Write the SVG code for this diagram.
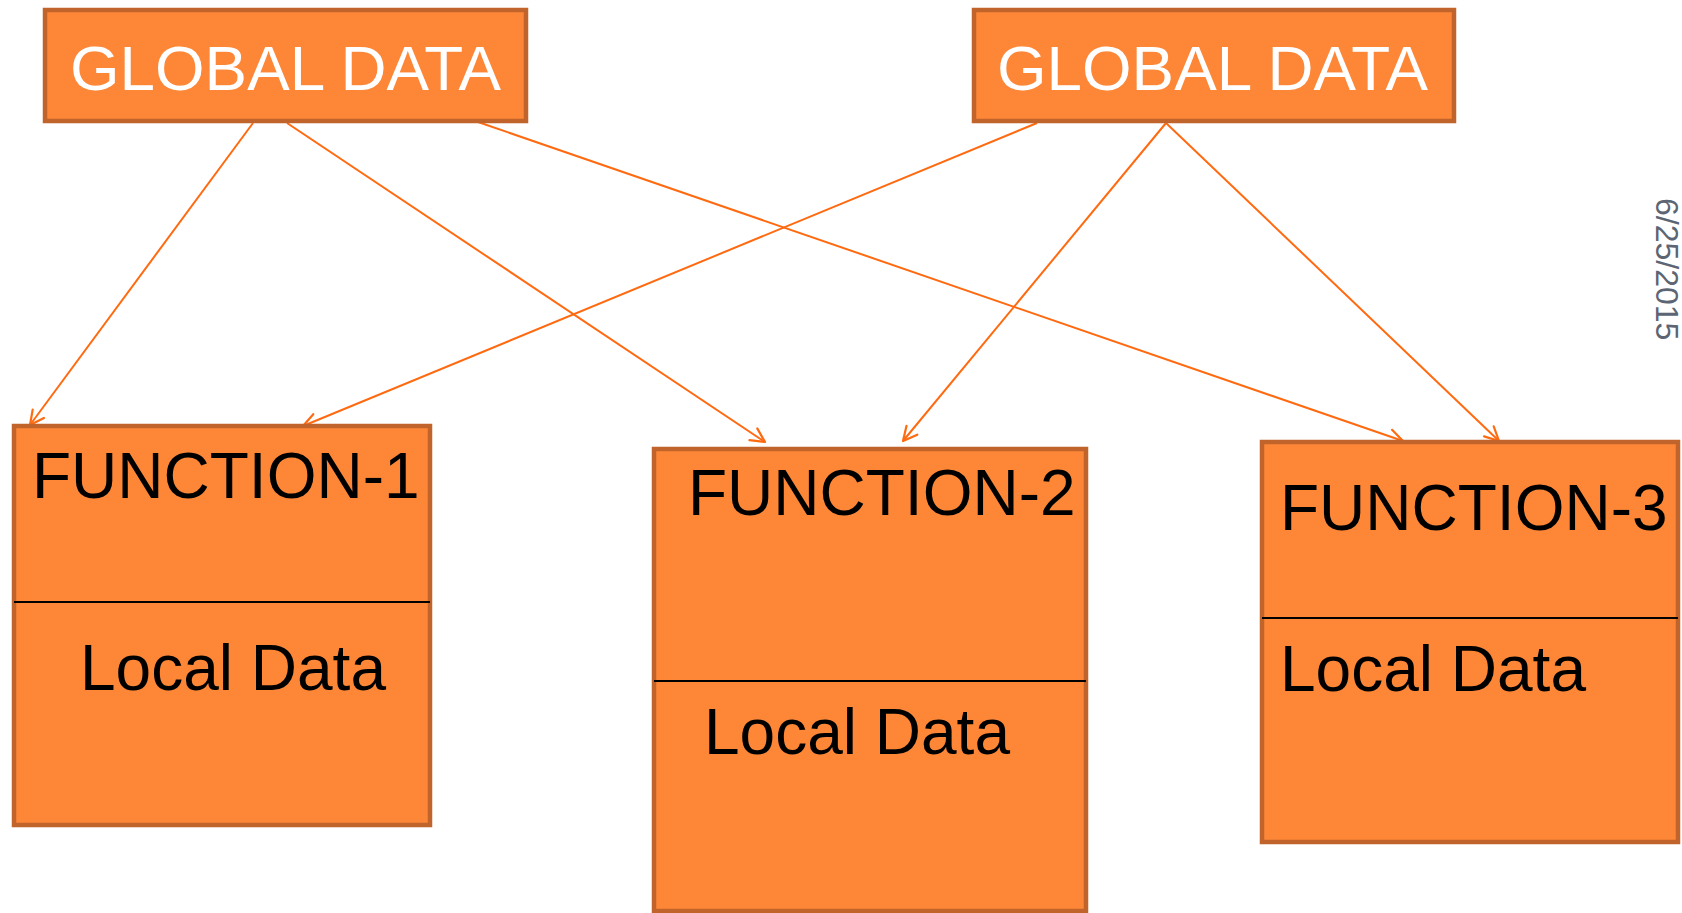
<svg xmlns="http://www.w3.org/2000/svg" width="1682" height="913" viewBox="0 0 1682 913">
<style>
.box{fill:#fd8737;stroke:#c0642c;stroke-width:4.5}
.div{stroke:#000;stroke-width:2}
.gt{font-family:"Liberation Sans",Arial,sans-serif;font-size:63px;fill:#fff}
.ft{font-family:"Liberation Sans",Arial,sans-serif;font-size:64px;fill:#000}
.con{stroke:#ff6a10;stroke-width:2;fill:none;marker-end:url(#arr)}
.date{font-family:"Liberation Sans",Arial,sans-serif;font-size:32px;fill:#5b6574}
</style>
<defs>
<marker id="arr" markerUnits="userSpaceOnUse" markerWidth="30" markerHeight="30" refX="0" refY="0" viewBox="-20 -15 30 30" orient="auto" overflow="visible">
<path d="M-14,-7 L0,0 L-14,7" fill="none" stroke="#ff6a10" stroke-width="2.2" stroke-linecap="round" stroke-linejoin="round"/>
</marker>
</defs>
<rect width="1682" height="913" fill="#fff"/>
<g id="connectors">
<line class="con" x1="253" y1="123" x2="30" y2="425"/>
<line class="con" x1="287" y1="123" x2="765" y2="442"/>
<line class="con" x1="478" y1="122" x2="1403" y2="441"/>
<line class="con" x1="1037" y1="123" x2="303" y2="426"/>
<line class="con" x1="1166" y1="123" x2="903" y2="441"/>
<line class="con" x1="1166" y1="123" x2="1499" y2="441"/>
</g>
<g id="global1">
<rect class="box" x="45" y="10" width="481" height="111"/>
<text class="gt" x="70" y="90" textLength="431" lengthAdjust="spacingAndGlyphs">GLOBAL DATA</text>
</g>
<g id="global2">
<rect class="box" x="974" y="10" width="480" height="111"/>
<text class="gt" x="997" y="90" textLength="431" lengthAdjust="spacingAndGlyphs">GLOBAL DATA</text>
</g>
<g id="function1">
<rect class="box" x="14" y="426" width="416" height="399"/>
<line class="div" x1="14" y1="602" x2="430" y2="602"/>
<text class="ft" x="32" y="498">FUNCTION-1</text>
<text class="ft" x="80" y="690">Local Data</text>
</g>
<g id="function2">
<rect class="box" x="654" y="449" width="432" height="462"/>
<line class="div" x1="654" y1="681" x2="1086" y2="681"/>
<text class="ft" x="688" y="515">FUNCTION-2</text>
<text class="ft" x="704" y="754">Local Data</text>
</g>
<g id="function3">
<rect class="box" x="1262" y="442" width="416" height="400"/>
<line class="div" x1="1262" y1="618" x2="1678" y2="618"/>
<text class="ft" x="1280" y="530">FUNCTION-3</text>
<text class="ft" x="1280" y="691">Local Data</text>
</g>
<g id="date">
<text class="date" transform="translate(1656,198) rotate(90)">6/25/2015</text>
</g>
</svg>
